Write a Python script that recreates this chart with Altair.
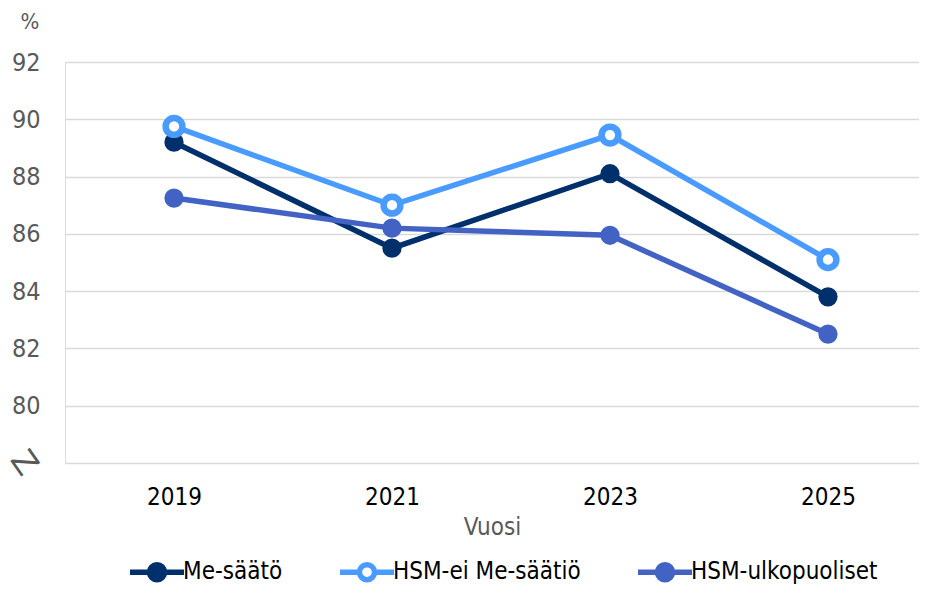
import altair as alt
import pandas as pd

years = [2019, 2021, 2023, 2025]
series_names = ["Me-säätö", "HSM-ei Me-säätiö", "HSM-ulkopuoliset"]
me_saato = [89.2, 85.5, 88.1, 83.8]
hsm_ei = [89.75, 87.0, 89.45, 85.1]
hsm_ulko = [87.25, 86.2, 85.95, 82.5]
y_ticks = [78, 80, 82, 84, 86, 88, 90, 92]

colors = ["#00306C", "#4A9BFF", "#4263C3"]
fills = ["#00306C", "#FFFFFF", "#4263C3"]

rows = []
for name, col, vals in zip(series_names, colors, [me_saato, hsm_ei, hsm_ulko]):
    for yr, v in zip(years, vals):
        rows.append({"Vuosi": yr, "Arvo": v, "Sarja": name, "Vari": col})
df = pd.DataFrame(rows)

FONT = "DejaVu Sans Condensed"

x_scale = alt.Scale(domain=[2018, 2025.835], nice=False, zero=False)
y_scale = alt.Scale(domain=[78, 92], nice=False, zero=False)

x_enc = alt.X(
    "Vuosi:Q",
    scale=x_scale,
    axis=alt.Axis(
        values=years, format="d", grid=False, ticks=False, tickSize=0, domain=False,
        labelFontSize=24, labelColor="#000000", labelPadding=22, labelFont=FONT,
        title="Vuosi", titleFontSize=24, titleColor="#595959", titleFont=FONT,
        titleFontWeight="normal", titlePadding=6,
    ),
)
y_enc = alt.Y(
    "Arvo:Q",
    scale=y_scale,
    axis=alt.Axis(
        values=y_ticks, grid=True, gridColor="#D9D9D9", gridWidth=1.6,
        ticks=False, tickSize=0, domain=False,
        labelFontSize=25, labelColor="#595959", labelPadding=25, labelFont=FONT,
        labelExpr="datum.value == 78 ? '' : datum.label",
        title="%", titleAngle=0, titleAlign="left", titleBaseline="middle",
        titleX=-45, titleY=-41, titleFontSize=22, titleColor="#595959",
        titleFont=FONT, titleFontWeight="normal",
    ),
)

lines = alt.Chart(df).mark_line(strokeWidth=5.5).encode(
    x=x_enc,
    y=y_enc,
    color=alt.Color("Vari:N", scale=None),
    detail="Sarja:N",
)

sym = "M-1,0L-0.28,0M0.28,0L1,0M-0.28,0A0.28,0.28,0,1,1,0.28,0A0.28,0.28,0,1,1,-0.28,0Z"

legend = alt.Legend(
    title=None, orient="none", direction="horizontal", legendX=62, legendY=480,
    symbolType=sym, symbolSize=2916, symbolStrokeWidth=5.5,
    labelFontSize=24, labelFont=FONT, labelColor="#000000", labelOffset={"expr": "-4"},
    labelLimit=400, columnPadding=46, padding=0,
)

points = alt.Chart(df).mark_point(shape="circle", strokeWidth=6, opacity=1, size=177).encode(
    x=x_enc,
    y=y_enc,
    stroke=alt.Stroke("Sarja:N", scale=alt.Scale(domain=series_names, range=colors), legend=legend),
    fill=alt.Fill("Sarja:N", scale=alt.Scale(domain=series_names, range=fills), legend=legend),
)

hollow = alt.Chart(df).transform_filter(
    alt.datum.Sarja == series_names[1]
).mark_point(shape="circle", strokeWidth=6.5, opacity=1, size=280,
             stroke=colors[1], fill="#FFFFFF").encode(x=x_enc, y=y_enc)

brk = alt.Chart(pd.DataFrame({"v": [78]})).mark_text(
    text="Z", angle=55, fontSize=32, color="#595959", font="DejaVu Sans ExtraLight, DejaVu Sans"
).encode(x=alt.value(-41), y=alt.Y("v:Q", scale=y_scale))

chart = alt.layer(lines, points, hollow, brk).properties(
    width=854, height=401,
    padding={"left": 57, "top": 54, "right": 0, "bottom": 122},
    autosize=alt.AutoSizeParams(type="none"),
).configure_view(stroke=None).configure(font=FONT)

chart.save("out.html", embed_options={"renderer": "svg", "actions": False})
